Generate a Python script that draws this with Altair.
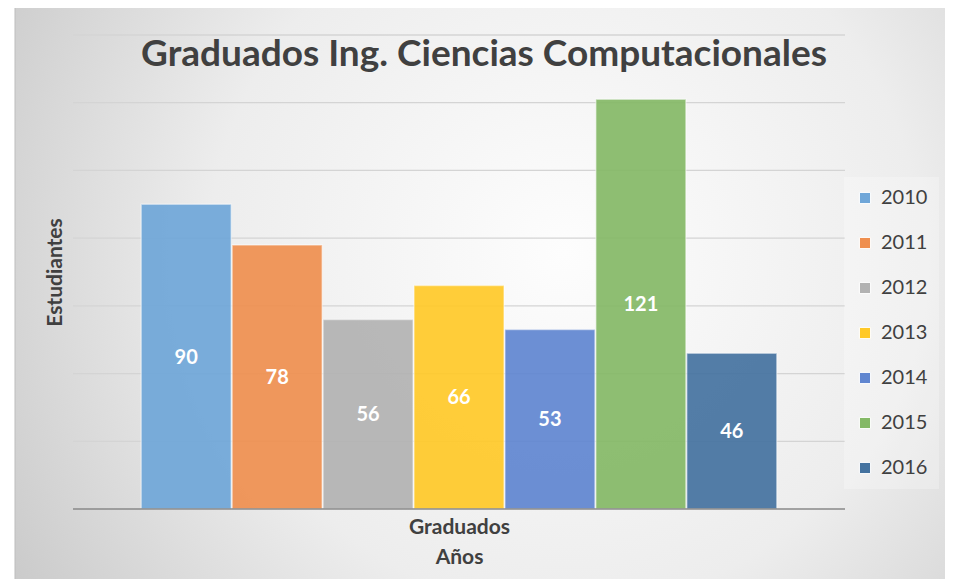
import altair as alt
import pandas as pd

years = ["2010", "2011", "2012", "2013", "2014", "2015", "2016"]
values = [90, 78, 56, 66, 53, 121, 46]
colors = ["#6fa6d8", "#ef8f4f", "#b2b2b2", "#ffc928", "#6086d0", "#84b966", "#44729f"]
grid_values = [20, 40, 60, 80, 100, 120, 140]
title_text = "Graduados Ing. Ciencias Computacionales"

df = pd.DataFrame({"year": years, "value": values})
grid_df = pd.DataFrame({"g": grid_values})

W, H = 772, 474
FONT = "Lato"

bg = alt.Chart(alt.Data(values=[{}])).mark_rect(
    fill=alt.Gradient(
        gradient="radial",
        stops=[alt.GradientStop(color="#fdfdfd", offset=0),
               alt.GradientStop(color="#ededed", offset=0.5),
               alt.GradientStop(color="#c2c2c2", offset=1)],
        x1=0.58, y1=0.45, r1=0, x2=0.58, y2=0.45, r2=0.75,
    ),
    stroke="#bdbdbd", strokeWidth=1,
).encode(x=alt.value(-58), x2=alt.value(890), y=alt.value(-29), y2=alt.value(560))

yscale = alt.Scale(domain=[0, 140], nice=False)

grid = alt.Chart(grid_df).mark_rule(color="#d4d4d4", strokeWidth=1.3).encode(
    y=alt.Y("g:Q", scale=yscale), x=alt.value(0), x2=alt.value(W)
)

xenc = alt.X(
    "year:N",
    sort=years,
    scale=alt.Scale(paddingInner=0.01, paddingOuter=0.75),
    axis=alt.Axis(labels=False, ticks=False, domain=False, title=["Graduados", "Años"],
                  titleFont=FONT, titleFontSize=21, titleFontWeight="bold",
                  titleColor="#404040", titlePadding=7, titleLineHeight=30, zindex=2),
)

bars = alt.Chart(df).mark_bar(
    fillOpacity=0.92, stroke="white", strokeOpacity=0.45, strokeWidth=1.5
).encode(
    x=xenc,
    y=alt.Y("value:Q", scale=yscale,
            axis=alt.Axis(labels=False, ticks=False, domain=False, grid=False,
                          title="Estudiantes", titleFont=FONT, titleFontSize=21,
                          titleFontWeight="bold", titleColor="#404040", titlePadding=8,
                          zindex=2)),
    color=alt.Color("year:N", sort=years,
                    scale=alt.Scale(domain=years, range=colors),
                    legend=alt.Legend(title=None, orient="none", legendX=771, legendY=142,
                                      symbolType="square", symbolSize=125,
                                      symbolStrokeColor="white", symbolStrokeWidth=1,
                                      labelFont=FONT, labelFontSize=20, labelColor="#404040",
                                      rowPadding=25, padding=11, labelOffset=6,
                                      fillColor="rgba(255,255,255,0.25)")),
)

labels = alt.Chart(df).mark_text(
    color="white", font=FONT, fontWeight="bold", fontSize=20, baseline="middle", dy=1
).encode(
    x=alt.X("year:N", sort=years),
    y=alt.Y("mid:Q", scale=yscale),
    text="value:Q",
).transform_calculate(mid="datum.value / 2")

title = alt.Chart(alt.Data(values=[{"t": title_text}])).mark_text(
    font=FONT, fontSize=37, fontWeight="bold", color="#404040",
    align="center", baseline="alphabetic",
).encode(text="t:N", x=alt.value(411), y=alt.value(31))

base = alt.Chart(alt.Data(values=[{}])).mark_rule(color="#888888", strokeWidth=1.5).encode(
    x=alt.value(0), x2=alt.value(W), y=alt.value(H)
)

chart = alt.layer(bg, grid, bars, labels, base, title).properties(
    width=W, height=H,
    autosize=alt.AutoSizeParams(type="none"),
    padding={"left": 65, "top": 27, "right": 100, "bottom": 70},
).configure_view(stroke=None).configure(background="white")

chart.save("out.html", embed_options={"renderer": "svg", "actions": False})
